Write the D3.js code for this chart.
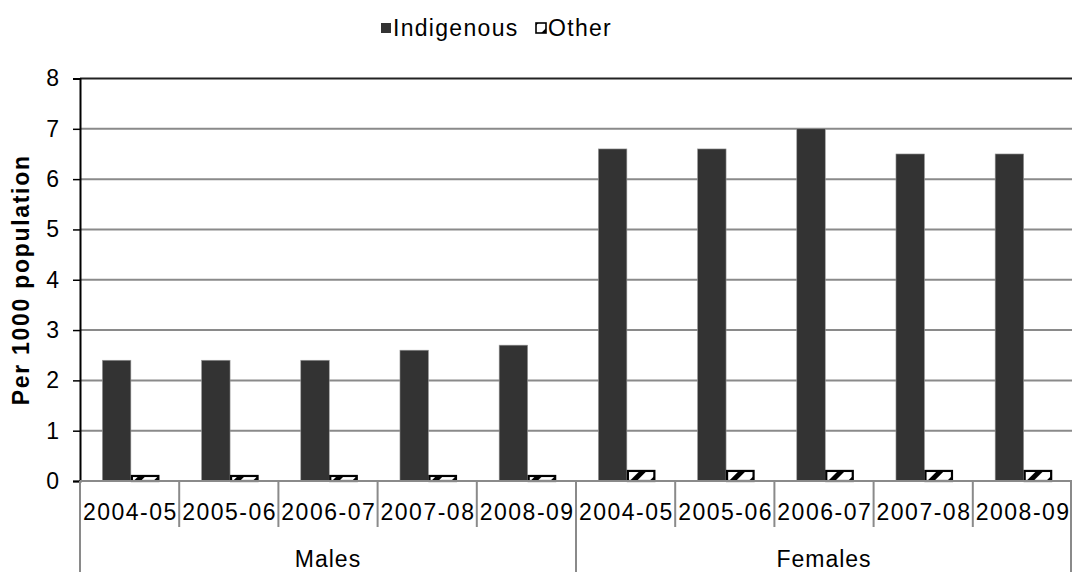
<!DOCTYPE html>
<html>
<head>
<meta charset="utf-8">
<script src="https://cdn.jsdelivr.net/npm/d3@7/dist/d3.min.js"></script>
<style>
  html, body { margin: 0; padding: 0; background: #fff; }
  svg { display: block; }
  text { font-family: "Liberation Sans", Arial, sans-serif; fill: #000; }
</style>
</head>
<body>
<svg id="chart" width="1073" height="572"></svg>
<script>
// Hospitalisation rates per 1000 population, by sex and financial year
const groups = ["Males", "Females"];
const years = ["2004-05", "2005-06", "2006-07", "2007-08", "2008-09"];
const series = ["Indigenous", "Other"];
const indigenous = [2.4, 2.4, 2.4, 2.6, 2.7, 6.6, 6.6, 7.0, 6.5, 6.5];
const other = [0.1, 0.1, 0.1, 0.1, 0.1, 0.2, 0.2, 0.2, 0.2, 0.2];
const yTicks = [0, 1, 2, 3, 4, 5, 6, 7, 8];
const yTitle = "Per 1000  population";

const svg = d3.select("#chart");
const plotL = 80, plotR = 1072, plotT = 78.5, plotB = 481;
const FS = 23;

// one category per (group, year) pair
const cats = [];
groups.forEach(g => years.forEach(y => cats.push({ group: g, year: y })));
const rows = cats.map((c, i) => ({ ...c, key: c.group + "|" + c.year,
  Indigenous: indigenous[i], Other: other[i] }));

const x0 = d3.scaleBand().domain(rows.map(r => r.key)).range([plotL, plotR]).padding(0);
const x1 = d3.scaleBand().domain(series).range([0, x0.bandwidth()])
  .paddingInner(0).paddingOuter(0.74).align(0.53);
const y = d3.scaleLinear().domain([0, 8]).range([plotB, plotT]);

// upward diagonal hatch for the "Other" series
const defs = svg.append("defs");
const pat = defs.append("pattern").attr("id", "hatch")
  .attr("patternUnits", "userSpaceOnUse").attr("width", 14).attr("height", 14)
  .attr("patternTransform", "rotate(45)");
pat.append("rect").attr("width", 14).attr("height", 14).attr("fill", "#fff");
pat.append("rect").attr("x", 0).attr("width", 5).attr("height", 14).attr("fill", "#000");

// gridlines
svg.append("g").selectAll("line").data(yTicks.filter(t => t > 0)).join("line")
  .attr("x1", plotL).attr("x2", plotR)
  .attr("y1", d => y(d)).attr("y2", d => y(d))
  .attr("stroke", d => d === 8 ? "#222" : "#8a8a8a").attr("stroke-width", 2);

// y axis
const yAxis = d3.axisLeft(y).tickValues(yTicks).tickSize(7).tickPadding(14).tickFormat(d3.format("d"));
const ya = svg.append("g").attr("transform", `translate(${plotL},0)`).call(yAxis);
ya.select(".domain").attr("stroke", "#000").attr("stroke-width", 2);
ya.selectAll(".tick line").attr("stroke", "#000").attr("stroke-width", 1.5);
ya.selectAll(".tick text").attr("font-size", FS).style("font-family", "'Liberation Sans', Arial, sans-serif").attr("fill", "#000");

// y title
svg.append("text")
  .attr("transform", `translate(29,${(plotT + plotB) / 2}) rotate(-90)`)
  .attr("text-anchor", "middle").attr("font-size", FS).attr("font-weight", "bold")
  .attr("letter-spacing", 1.7)
  .text(yTitle);

// bars
const gCat = svg.append("g").selectAll("g").data(rows).join("g")
  .attr("transform", d => `translate(${x0(d.key)},0)`);
gCat.append("rect")
  .attr("x", x1("Indigenous")).attr("width", x1.bandwidth())
  .attr("y", d => y(d.Indigenous)).attr("height", d => y(0) - y(d.Indigenous))
  .attr("fill", "#333").attr("stroke", "#9a9a9a").attr("stroke-width", 0.6);

// baseline
svg.append("line").attr("x1", plotL).attr("x2", plotR).attr("y1", plotB).attr("y2", plotB)
  .attr("stroke", "#8a8a8a").attr("stroke-width", 2);

gCat.append("rect")
  .attr("x", x1("Other") + 1).attr("width", x1.bandwidth() - 2)
  .attr("y", d => y(d.Other)).attr("height", d => y(0) - y(d.Other))
  .attr("fill", "url(#hatch)").attr("stroke", "#000").attr("stroke-width", 2.2);

// category dividers
const bounds = d3.range(rows.length + 1);
const bx = i => i === rows.length ? plotR - 1 : (i === 0 ? plotL : x0(rows[i].key));
svg.append("g").selectAll("line").data(bounds).join("line")
  .attr("x1", bx).attr("x2", bx)
  .attr("y1", plotB).attr("y2", i => i % years.length === 0 ? 572 : 527)
  .attr("stroke", "#8a8a8a").attr("stroke-width", 2);

// year labels
svg.append("g").selectAll("text").data(rows).join("text")
  .attr("x", d => x0(d.key) + x0.bandwidth() / 2 + 0.8).attr("y", 520)
  .attr("text-anchor", "middle").attr("font-size", FS).attr("letter-spacing", 1.5)
  .text(d => d.year);

// group labels
svg.append("g").selectAll("text").data(groups).join("text")
  .attr("x", g => {
    const ks = rows.filter(r => r.group === g).map(r => r.key);
    return (x0(ks[0]) + x0(ks[ks.length - 1]) + x0.bandwidth()) / 2;
  })
  .attr("y", 567).attr("text-anchor", "middle").attr("font-size", FS).attr("letter-spacing", 1)
  .text(g => g);

// legend
const leg = svg.append("g");
const legX = [381, 536];
series.forEach((s, i) => {
  leg.append("rect").attr("x", legX[i]).attr("y", 23).attr("width", 10).attr("height", 10)
    .attr("fill", i === 0 ? "#333" : "url(#hatch)")
    .attr("stroke", "#000").attr("stroke-width", i === 0 ? 0 : 1.6);
  leg.append("text").attr("x", legX[i] + 12).attr("y", 36).attr("font-size", FS)
    .attr("letter-spacing", 1.3).text(s);
});
</script>
</body>
</html>
